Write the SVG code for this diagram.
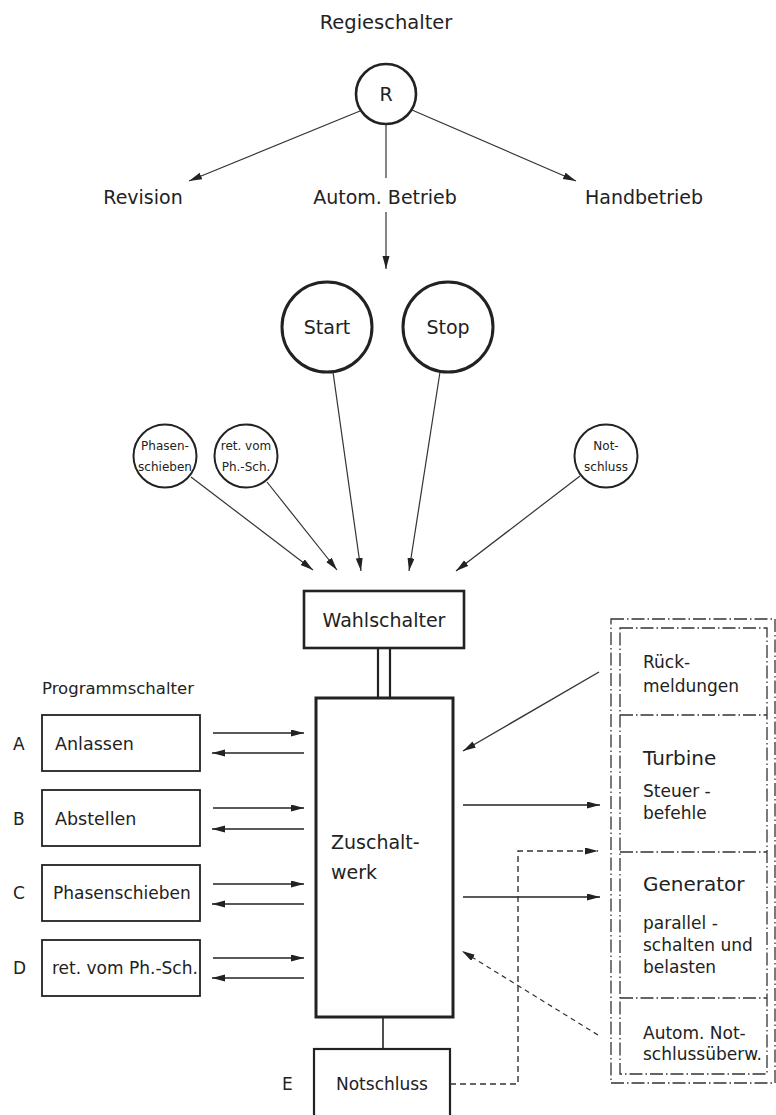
<svg xmlns="http://www.w3.org/2000/svg" width="776" height="1115" viewBox="0 0 776 1115">
<style>
text{font-family:"DejaVu Sans","Liberation Sans",sans-serif;fill:#222}
.t19{font-size:19px}
.t18{font-size:18px}
.t17{font-size:17px}
.t20{font-size:20px}
.sm{font-size:12px}
.c{text-anchor:middle}
.box{fill:#fff;stroke:#222;stroke-width:2.2}
.thick{fill:#fff;stroke:#222;stroke-width:3}
.circ{fill:#fff;stroke:#222;stroke-width:2.6}
.circs{fill:#fff;stroke:#222;stroke-width:2}
.ln{fill:none;stroke:#333;stroke-width:1.2}
.ln2{fill:none;stroke:#222;stroke-width:1.6}
.dd{fill:none;stroke:#333;stroke-width:1.3;stroke-dasharray:13 3 1.5 3}
.dash{fill:none;stroke:#333;stroke-width:1.4;stroke-dasharray:6 4}
.dash2{fill:none;stroke:#333;stroke-width:1.2;stroke-dasharray:5 4}
</style>
<defs>
<marker id="ah" markerUnits="userSpaceOnUse" markerWidth="14" markerHeight="8" refX="13" refY="3.5" orient="auto">
<path d="M0,0 L13,3.5 L0,7 Z" fill="#222"/>
</marker>
</defs>

<g id="regieschalter">
<text class="t19 c" x="386" y="29" style="font-size:19.5px">Regieschalter</text>
<ellipse class="circ" cx="386" cy="94" rx="30" ry="30"/>
<text class="t19 c" x="386" y="101">R</text>
</g>
<g id="revision"><text class="t19 c" x="143" y="204">Revision</text></g>
<g id="autom-betrieb"><text class="t19 c" x="385" y="204">Autom. Betrieb</text></g>
<g id="handbetrieb"><text class="t19 c" x="644" y="204">Handbetrieb</text></g>

<g id="start"><circle class="circ" cx="327" cy="327" r="45" style="stroke-width:3"/><text class="t19 c" x="327" y="334">Start</text></g>
<g id="stop"><circle class="circ" cx="448" cy="327" r="45" style="stroke-width:3"/><text class="t19 c" x="448" y="334">Stop</text></g>

<g id="phasenschieben-c"><circle class="circs" cx="165" cy="456" r="31.5"/><text class="sm c" x="165" y="450">Phasen-</text><text class="sm c" x="165" y="471">schieben</text></g>
<g id="ret-c"><circle class="circs" cx="246" cy="456" r="31.5"/><text class="sm c" x="246" y="450">ret. vom</text><text class="sm c" x="246" y="471">Ph.-Sch.</text></g>
<g id="notschluss-c"><circle class="circs" cx="606" cy="456" r="31.5"/><text class="sm c" x="606" y="450">Not-</text><text class="sm c" x="606" y="471">schluss</text></g>

<g id="wahlschalter"><rect class="box" x="304" y="591" width="160" height="57" style="stroke-width:2.6"/><text class="c" x="384" y="627" style="font-size:19px">Wahlschalter</text></g>

<g id="zuschaltwerk"><rect class="thick" x="316" y="698" width="137" height="319"/><text x="331" y="849" style="font-size:19px">Zuschalt-</text><text x="331" y="879" style="font-size:19px">werk</text></g>

<g id="notschluss"><rect class="box" x="314" y="1049" width="136" height="90"/><text class="t17 c" x="382" y="1090">Notschluss</text><text class="t17" x="282" y="1090">E</text></g>

<g id="programmschalter">
<text x="42" y="694" style="font-size:16.5px">Programmschalter</text>
<g id="A"><rect class="box" x="42" y="715" width="158" height="56" style="stroke-width:1.8"/><text class="t17" x="55" y="750" style="font-size:17.5px">Anlassen</text><text class="t17" x="13" y="750">A</text></g>
<g id="B"><rect class="box" x="42" y="790" width="158" height="56" style="stroke-width:1.8"/><text class="t17" x="55" y="825" style="font-size:17.5px">Abstellen</text><text class="t17" x="13" y="825">B</text></g>
<g id="C"><rect class="box" x="42" y="865" width="158" height="56" style="stroke-width:1.8"/><text class="t17" x="53" y="899">Phasenschieben</text><text class="t17" x="13" y="899">C</text></g>
<g id="D"><rect class="box" x="42" y="940" width="158" height="56" style="stroke-width:1.8"/><text class="t17" x="52" y="974">ret. vom Ph.-Sch.</text><text class="t17" x="13" y="974">D</text></g>
</g>

<g id="panel">
<rect class="dd" x="611" y="619" width="164" height="464"/>
<rect class="dd" x="620" y="628" width="147" height="446"/>
<path class="dd" d="M620,715 H767 M620,852 H767 M620,998 H767"/>
<g id="rueckmeldungen"><text class="t17" x="643" y="668">Rück-</text><text class="t17" x="643" y="692">meldungen</text></g>
<g id="turbine"><text class="t20" x="643" y="765">Turbine</text><text class="t17" x="643" y="797">Steuer -</text><text class="t17" x="643" y="819">befehle</text></g>
<g id="generator"><text class="t20" x="643" y="891">Generator</text><text class="t17" x="643" y="929">parallel -</text><text class="t17" x="643" y="951">schalten und</text><text class="t17" x="643" y="973">belasten</text></g>
<g id="notschlussueberw"><text class="t17" x="643" y="1039">Autom. Not-</text><text class="t17" x="643" y="1060">schlussüberw.</text></g>
</g>

<g id="connectors">
<line class="ln" x1="360" y1="111" x2="189" y2="181" marker-end="url(#ah)"/>
<line class="ln" x1="412" y1="110" x2="576" y2="181" marker-end="url(#ah)"/>
<line class="ln" x1="386" y1="124" x2="386" y2="178"/>
<line class="ln" x1="386" y1="212" x2="386" y2="269" marker-end="url(#ah)"/>
<line class="ln" x1="333" y1="372" x2="361" y2="571" marker-end="url(#ah)"/>
<line class="ln" x1="440" y1="372" x2="409" y2="571" marker-end="url(#ah)"/>
<line class="ln" x1="191" y1="477" x2="313" y2="570" marker-end="url(#ah)"/>
<line class="ln" x1="267" y1="482" x2="337" y2="570" marker-end="url(#ah)"/>
<line class="ln" x1="580" y1="476" x2="456" y2="571" marker-end="url(#ah)"/>
<path class="ln2" d="M378,649 V698 M390,649 V698" style="stroke-width:2.2"/>
<line class="ln2" x1="383" y1="1017" x2="383" y2="1049"/>
<line class="ln2" x1="213" y1="733" x2="304" y2="733" marker-end="url(#ah)"/>
<line class="ln2" x1="304" y1="753" x2="212" y2="753" marker-end="url(#ah)"/>
<line class="ln2" x1="213" y1="808" x2="304" y2="808" marker-end="url(#ah)"/>
<line class="ln2" x1="304" y1="829" x2="212" y2="829" marker-end="url(#ah)"/>
<line class="ln2" x1="213" y1="884" x2="304" y2="884" marker-end="url(#ah)"/>
<line class="ln2" x1="304" y1="904" x2="212" y2="904" marker-end="url(#ah)"/>
<line class="ln2" x1="213" y1="958" x2="304" y2="958" marker-end="url(#ah)"/>
<line class="ln2" x1="304" y1="978" x2="212" y2="978" marker-end="url(#ah)"/>
<line class="ln2" x1="463" y1="805" x2="600" y2="805" marker-end="url(#ah)"/>
<line class="ln2" x1="463" y1="897" x2="600" y2="897" marker-end="url(#ah)"/>
<line class="ln" x1="599" y1="672" x2="463" y2="751" marker-end="url(#ah)" style="stroke-width:1.4"/>
<path class="dash" d="M450,1084 H518 V851 H598" marker-end="url(#ah)"/>
<line class="dash2" x1="598" y1="1035" x2="462" y2="951" marker-end="url(#ah)"/>
</g>
</svg>
